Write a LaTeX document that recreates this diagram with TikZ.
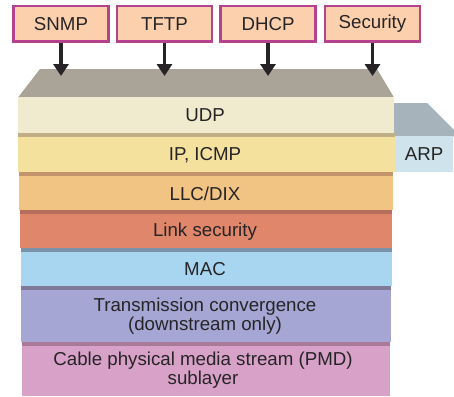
\documentclass[tikz,border=0pt]{standalone}
\usepackage{fontspec}
\setmainfont{Liberation Sans}
\usetikzlibrary{arrows.meta}

\definecolor{protofill}{HTML}{FCD0AC}
\definecolor{protoedge}{HTML}{B5428E}
\definecolor{topgray}{HTML}{A9A398}
\definecolor{arpgray}{HTML}{A6B3BA}
\definecolor{arpfill}{HTML}{CEE3EB}
\definecolor{udpfill}{HTML}{F0EACF}
\definecolor{ipfill}{HTML}{F4E19E}
\definecolor{ipedge}{HTML}{BFAE86}
\definecolor{llcfill}{HTML}{F2C484}
\definecolor{llcedge}{HTML}{C4946C}
\definecolor{linkfill}{HTML}{E0866B}
\definecolor{linkedge}{HTML}{B66D5C}
\definecolor{macfill}{HTML}{A8D6F0}
\definecolor{macedge}{HTML}{7A93A8}
\definecolor{tcfill}{HTML}{A5A6D3}
\definecolor{tcedge}{HTML}{7E7A98}
\definecolor{pmdfill}{HTML}{D8A1C8}
\definecolor{pmdedge}{HTML}{A87A98}
\definecolor{ink}{HTML}{262426}

\tikzset{
  x=1pt, y=-1pt,
  every node/.style={font=\fontsize{18.7}{18.5}\selectfont, text=ink, inner sep=0pt},
  proto/.style={draw=protoedge, line width=2.5pt, fill=protofill,
    minimum width=95pt, minimum height=35.5pt},
  feed/.style={draw=ink, line width=3.6pt,
    -{Triangle[width=15pt,length=12pt]}},
  layertext/.style={align=center},
}

\begin{document}
\begin{tikzpicture}
\useasboundingbox (0,0) rectangle (454,396);

% protocols on top of the stack
\node[proto] (snmp) at (61,24) {SNMP};
\node[proto] (tftp) at (164.5,24) {TFTP};
\node[proto] (dhcp) at (268,24) {DHCP};
\node[proto] (sec)  at (372.5,24) {Security};

% top face of the stack
\fill[topgray] (40,69) -- (377,69) -- (394,97.5) -- (18,97.5) -- cycle;

% ARP block beside the stack
\fill[arpgray] (394,103) -- (427,103) -- (454,130) -- (454,136.5) -- (394,136.5) -- cycle;
\fill[arpfill] (394.5,136) rectangle (453,172);
\node (arp) at (424,154) {ARP};

% layers: darker top band, then body
\fill[udpfill] (18,97) rectangle (394,133);
\node[layertext] (udp) at (205,115.5) {UDP};

\fill[ipedge] (18,133) rectangle (395,137);
\fill[ipfill] (18,137) rectangle (395,172);
\node[layertext] (ip) at (205,155) {IP, ICMP};

\fill[llcedge] (19,172) rectangle (393,176);
\fill[llcfill] (19,176) rectangle (393,210);
\node[layertext] (llc) at (205,193.5) {LLC/DIX};

\fill[linkedge] (20,210) rectangle (392,214);
\fill[linkfill] (20,214) rectangle (392,248);
\node[layertext] (link) at (205,231.5) {Link security};

\fill[macedge] (21,248) rectangle (392,252);
\fill[macfill] (21,252) rectangle (392,286);
\node[layertext] (mac) at (205,269.5) {MAC};

\fill[tcedge] (21,286) rectangle (391,290);
\fill[tcfill] (21,290) rectangle (391,342);
\node[layertext] (tc) at (205,316) {Transmission convergence\\(downstream only)};

\fill[pmdedge] (22,342) rectangle (390,346);
\fill[pmdfill] (22,346) rectangle (390,396);
\node[layertext] (pmd) at (203,370) {Cable physical media stream (PMD)\\sublayer};

% arrow targets on the top face
\coordinate (t1) at (61,76);
\coordinate (t2) at (164.5,76);
\coordinate (t3) at (268,76);
\coordinate (t4) at (372.5,76);

\draw[feed] (snmp.south) -- (t1);
\draw[feed] (tftp.south) -- (t2);
\draw[feed] (dhcp.south) -- (t3);
\draw[feed] (sec.south) -- (t4);
\end{tikzpicture}
\end{document}
